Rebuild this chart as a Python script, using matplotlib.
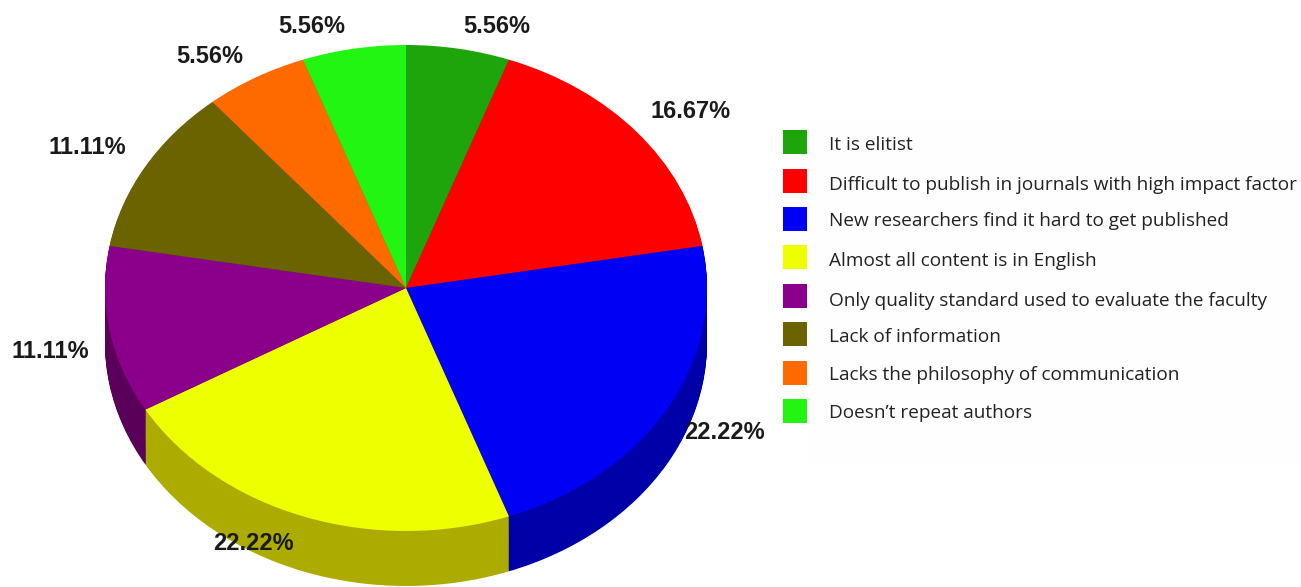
import matplotlib
matplotlib.use("Agg")
import matplotlib.pyplot as plt
from matplotlib.patches import Rectangle

categories = ["It is elitist", "Difficult to publish in journals with high impact factor",
              "New researchers find it hard to get published", "Almost all content is in English",
              "Only quality standard used to evaluate the faculty", "Lack of information",
              "Lacks the philosophy of communication", "Doesn\u2019t repeat authors"]
values = [5.56, 16.67, 22.22, 22.22, 11.11, 11.11, 5.56, 5.56]
labels = ["5.56%", "16.67%", "22.22%", "22.22%", "11.11%", "11.11%", "5.56%", "5.56%"]

colors = ["#1FA50C", "#FF0000", "#0000F5", "#EEFF00", "#8B008B", "#6B6300", "#FF6A00", "#22F511"]
side_colors = ["#157008", "#A80000", "#0000A8", "#ACAC00", "#5A005A", "#454000", "#A84600", "#16A00B"]
label_px = [(497, 26.5), (691, 111.5), (724, 432.5), (253, 543), (50, 351.5), (87, 147.5), (210, 56.5), (312, 26.5)]
swatch_y = [142, 181, 219, 257, 296, 334, 373, 411]
text_y = [144.5, 184.5, 220.5, 261.5, 301.5, 337.5, 374.5, 412.5]

W, H = 1301, 587
fig = plt.figure(figsize=(W / 100, H / 100), dpi=100, facecolor="white")
bg = fig.add_axes([0, 0, 1, 1])
bg.set_xlim(0, W); bg.set_ylim(H, 0); bg.axis("off")
bg.add_patch(Rectangle((808, 120), 493, 346, facecolor="#FEFEFE", edgecolor="none"))

cx0, cx1, cy0, cy1 = 105, 707, 45, 531
ax = fig.add_axes([cx0 / W, 1 - cy1 / H, (cx1 - cx0) / W, (cy1 - cy0) / H])
depth = 55 / ((cy1 - cy0) / 2)
steps = 56
for i in range(steps, 0, -1):
    w, _ = ax.pie(values, colors=side_colors, startangle=90, counterclock=False, radius=1,
                  center=(0, -depth * i / steps))
    for p in w:
        p.set_clip_on(False); p.set_linewidth(0)
w, _ = ax.pie(values, colors=colors, startangle=90, counterclock=False, radius=1, center=(0, 0))
for p in w:
    p.set_clip_on(False); p.set_linewidth(0)
ax.set_aspect("auto")
ax.set_xlim(-1, 1); ax.set_ylim(-1, 1)
ax.axis("off")

ov = fig.add_axes([0, 0, 1, 1], zorder=5)
ov.set_xlim(0, W); ov.set_ylim(H, 0); ov.axis("off"); ov.patch.set_alpha(0)
for t, (x, y) in zip(labels, label_px):
    ov.text(x, y, t, ha="center", va="center", fontsize=17, fontweight="bold",
            family="Liberation Sans", color="#1A1A1A")
for c, name, ys, yt in zip(colors, categories, swatch_y, text_y):
    ov.add_patch(Rectangle((783, ys - 12), 24, 24, facecolor=c, edgecolor="none"))
    ov.text(829, yt, name, ha="left", va="center", fontsize=13.7, family="Open Sans", color="#222222")
fig.savefig("out.png", dpi=100)
